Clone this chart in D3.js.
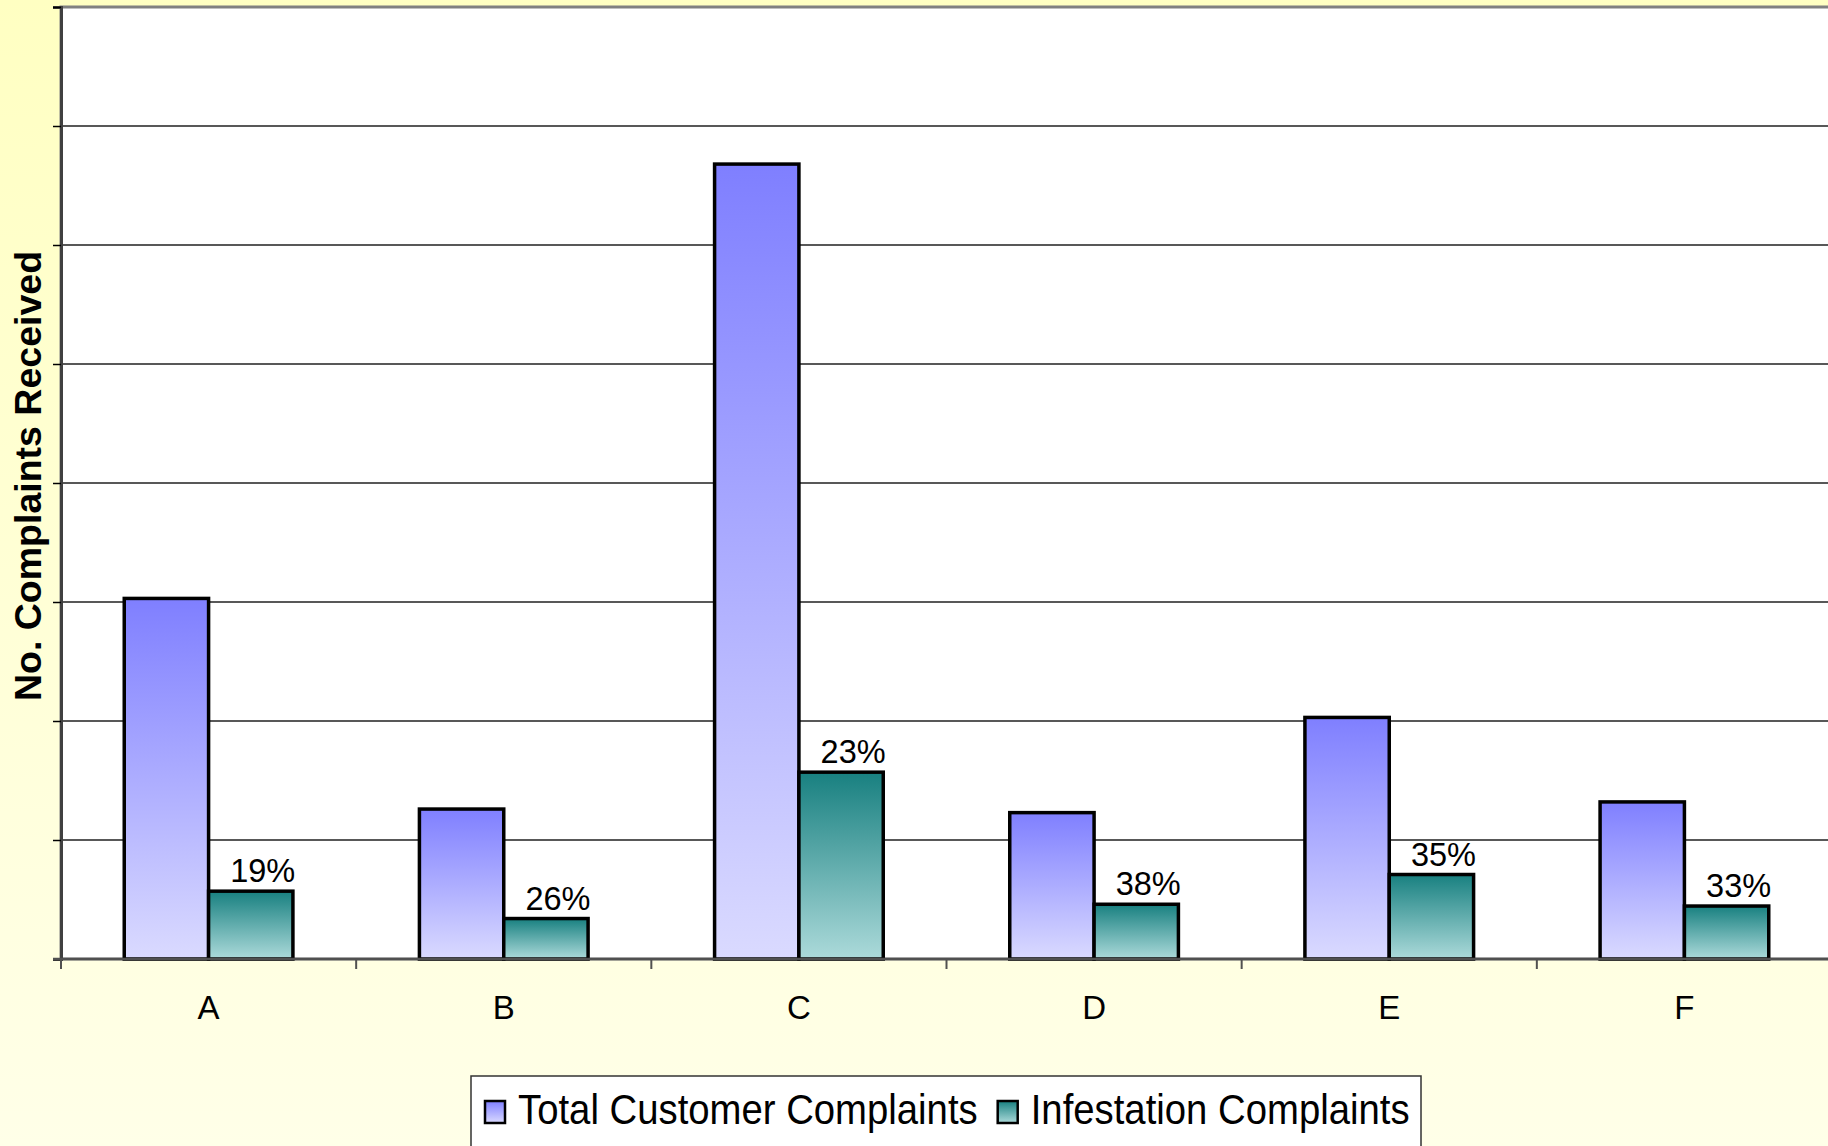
<!DOCTYPE html>
<html>

<head>
    <meta charset="UTF-8" />
    <script src="https://d3js.org/d3.v7.min.js"></script>
    <style>
        body { margin: 0; }
        text { font-family: Arial, "Liberation Sans", sans-serif; }
    </style>
</head>

<body>
    <script>
        // values (no y tick labels shown, units are "grid tenths")
        const categories = ["A", "B", "C", "D", "E", "F"];
        const series = ["Total Customer Complaints", "Infestation Complaints"];
        const totalComplaints = [30.3, 12.6, 66.8, 12.3, 20.3, 13.2];
        const infestationComplaints = [5.7, 3.4, 15.7, 4.6, 7.1, 4.45];
        const percentLabels = ["19%", "26%", "23%", "38%", "35%", "33%"];
        const yTicks = [0, 10, 20, 30, 40, 50, 60, 70, 80];

        const width = 1828;
        const height = 1146;
        const margin = { top: 7, right: -4, bottom: 187, left: 61 };

        const svg = d3.select("body")
            .append("svg")
            .attr("width", width)
            .attr("height", height);

        const defs = svg.append("defs");

        const bg = defs.append("linearGradient")
            .attr("id", "bg")
            .attr("x1", 0).attr("y1", 0).attr("x2", 0).attr("y2", 1);
        bg.append("stop").attr("offset", "0%").attr("stop-color", "#ffffc2");
        bg.append("stop").attr("offset", "100%").attr("stop-color", "#ffffe8");

        const colors = [
            ["#7f7fff", "#dadaff"],
            ["#188080", "#acdada"]
        ];
        colors.forEach(function (c, i) {
            const g = defs.append("linearGradient")
                .attr("id", "grad" + i)
                .attr("x1", 0).attr("y1", 0).attr("x2", 0).attr("y2", 1);
            g.append("stop").attr("offset", "0%").attr("stop-color", c[0]);
            g.append("stop").attr("offset", "100%").attr("stop-color", c[1]);
        });

        svg.append("rect")
            .attr("width", width)
            .attr("height", height)
            .attr("fill", "url(#bg)");

        const x = d3.scaleBand()
            .domain(categories)
            .range([margin.left, width - margin.right]);

        const xInner = d3.scaleBand()
            .domain(series)
            .range([0, x.bandwidth()])
            .paddingInner(0)
            .paddingOuter(0.75);

        const y = d3.scaleLinear()
            .domain([0, 80])
            .range([height - margin.bottom, margin.top]);

        // plot area
        svg.append("rect")
            .attr("x", margin.left)
            .attr("y", margin.top)
            .attr("width", width - margin.left + 10)
            .attr("height", y(0) - margin.top)
            .attr("fill", "white")
            .attr("stroke", "#808080")
            .attr("stroke-width", 3);

        // gridlines
        svg.append("g")
            .selectAll("line")
            .data(yTicks.slice(1, -1))
            .join("line")
            .attr("x1", margin.left)
            .attr("x2", width)
            .attr("y1", d => y(d))
            .attr("y2", d => y(d))
            .attr("stroke", "#202020")
            .attr("stroke-width", 1.3);

        // y axis, ticks only
        const yAxis = svg.append("g")
            .attr("transform", `translate(${margin.left},0)`)
            .call(d3.axisLeft(y).tickValues(yTicks).tickSize(8).tickFormat(""));
        yAxis.select(".domain").attr("stroke", "#404040").attr("stroke-width", 3);
        yAxis.selectAll(".tick line").attr("stroke", "#000").attr("stroke-width", 1.5);

        const data = categories.map(function (c, i) {
            return { cat: c, values: [totalComplaints[i], infestationComplaints[i]], label: percentLabels[i] };
        });

        const groups = svg.append("g")
            .selectAll("g")
            .data(data)
            .join("g")
            .attr("transform", d => `translate(${x(d.cat)},0)`);

        groups.selectAll("rect")
            .data(d => d.values.map((v, i) => ({ key: series[i], value: v, i: i })))
            .join("rect")
            .attr("x", d => xInner(d.key))
            .attr("y", d => y(d.value))
            .attr("width", xInner.bandwidth())
            .attr("height", d => y(0) - y(d.value))
            .attr("fill", d => `url(#grad${d.i})`)
            .attr("stroke", "#000")
            .attr("stroke-width", 3.5);

        groups.append("text")
            .attr("x", d => xInner(series[1]) + xInner.bandwidth() / 2 + 12)
            .attr("y", d => y(d.values[1]) - 9)
            .attr("text-anchor", "middle")
            .attr("font-size", 32.5)
            .text(d => d.label);

        // x axis
        const xAxis = svg.append("g")
            .attr("transform", `translate(0,${y(0)})`);
        xAxis.append("line")
            .attr("x1", margin.left - 8)
            .attr("x2", width)
            .attr("stroke", "#505050")
            .attr("stroke-width", 2.5);
        xAxis.selectAll(".tk")
            .data(categories)
            .join("line")
            .attr("class", "tk")
            .attr("x1", d => x(d))
            .attr("x2", d => x(d))
            .attr("y1", 0)
            .attr("y2", 10)
            .attr("stroke", "#505050")
            .attr("stroke-width", 2);
        xAxis.selectAll("text")
            .data(categories)
            .join("text")
            .attr("x", d => x(d) + x.bandwidth() / 2)
            .attr("y", 60)
            .attr("text-anchor", "middle")
            .attr("font-size", 33)
            .text(d => d);

        // y axis title
        svg.append("text")
            .attr("transform", "translate(41,476) rotate(-90)")
            .attr("text-anchor", "middle")
            .attr("font-size", 37.5)
            .attr("font-weight", "bold")
            .text("No. Complaints Received");

        // legend
        const legend = svg.append("g");
        legend.append("rect")
            .attr("x", 471)
            .attr("y", 1076)
            .attr("width", 950)
            .attr("height", 120)
            .attr("fill", "white")
            .attr("stroke", "#333")
            .attr("stroke-width", 1.5);

        let lx = 485;
        series.forEach(function (s, i) {
            legend.append("rect")
                .attr("x", lx)
                .attr("y", 1101)
                .attr("width", 20)
                .attr("height", 22)
                .attr("fill", `url(#grad${i})`)
                .attr("stroke", "#000")
                .attr("stroke-width", 2.5);
            const t = legend.append("text")
                .attr("transform", `translate(${lx + 33},1124) scale(1,1.12)`)
                .attr("font-size", 38.3)
                .text(s);
            lx = lx + 33 + t.node().getComputedTextLength() + 20;
        });
    </script>
</body>

</html>
